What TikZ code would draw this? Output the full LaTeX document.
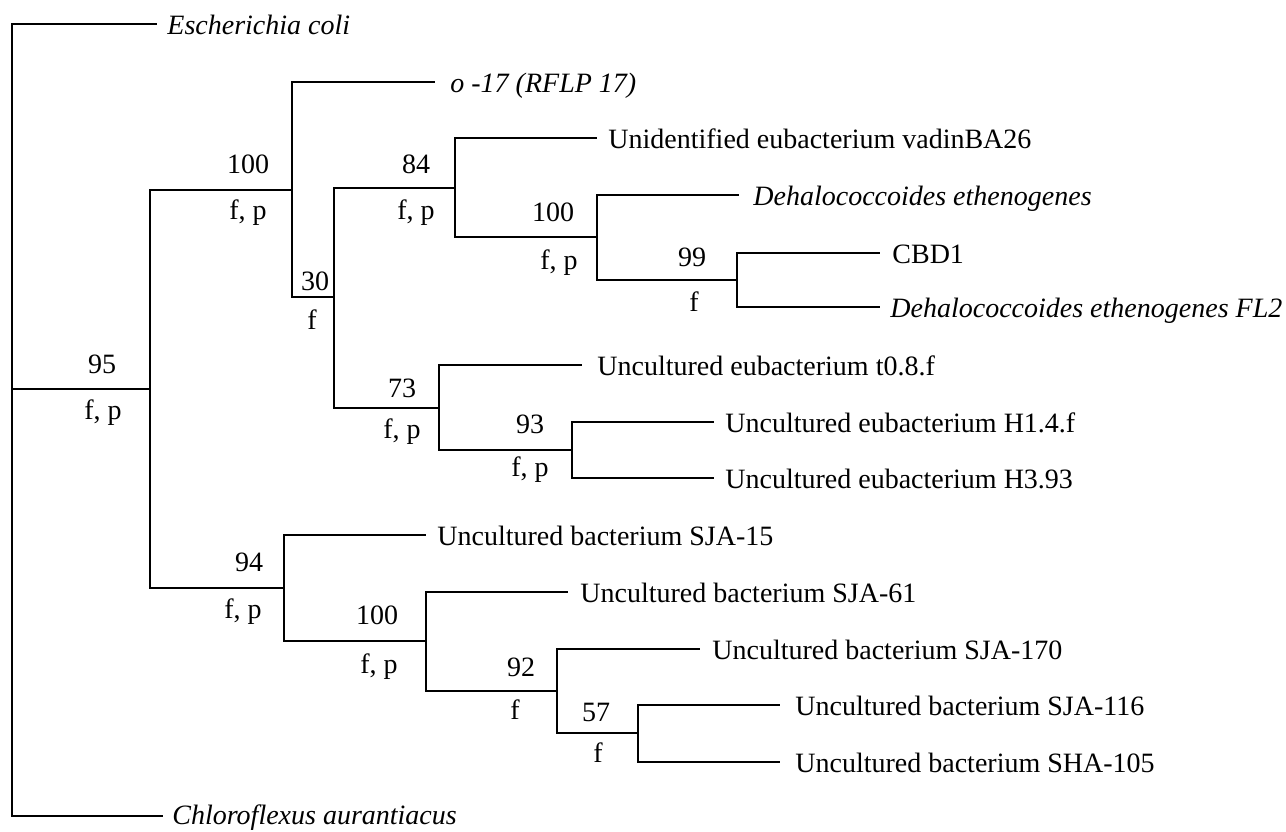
\documentclass[tikz,border=0pt]{standalone}
\usepackage{fontspec}
\setmainfont{Liberation Serif}
\begin{document}
\begin{tikzpicture}[x=0.5pt,y=-0.5pt,
  br/.style={line width=0.8pt},
  leaf/.style={anchor=base west,inner sep=0pt,font=\fontsize{14}{16}\selectfont},
  sp/.style={leaf,font=\fontsize{14}{16}\selectfont\itshape},
  bs/.style={inner sep=0pt,font=\fontsize{14}{16}\selectfont}]
\useasboundingbox (0,0) rectangle (1286,831);
% internal nodes
\coordinate (R) at (12,389);
\coordinate (A) at (150,389);
\coordinate (B) at (292,190);
\coordinate (C) at (334,297);
\coordinate (D) at (455,188);
\coordinate (E) at (597,237);
\coordinate (F) at (737,280);
\coordinate (G) at (439,408);
\coordinate (H) at (572,450);
\coordinate (I) at (284,588);
\coordinate (J) at (426,641);
\coordinate (K) at (557,691);
\coordinate (L) at (638,733);
% leaf ends
\coordinate (ecE) at (157,24);
\coordinate (o17E) at (435,82);
\coordinate (vaE) at (597,138);
\coordinate (deE) at (739,195);
\coordinate (cbE) at (880,253);
\coordinate (flE) at (880,307);
\coordinate (t08E) at (582,365);
\coordinate (h14E) at (714,422);
\coordinate (h393E) at (714,478);
\coordinate (s15E) at (426,535);
\coordinate (s61E) at (568,592);
\coordinate (s170E) at (700,649);
\coordinate (s116E) at (780,705);
\coordinate (s105E) at (780,762);
\coordinate (chE) at (163,816);
% leaf labels
\node[sp] (ec) at (167,34) {Escherichia coli};
\node[sp] (o17) at (450,92) {o -17 (RFLP 17)};
\node[leaf] (va) at (608,148) {Unidentified eubacterium vadinBA26};
\node[sp] (de) at (753,205) {Dehalococcoides ethenogenes};
\node[leaf] (cb) at (892,263) {CBD1};
\node[sp] (fl) at (890,317) {Dehalococcoides ethenogenes FL2};
\node[leaf] (t08) at (597,375) {Uncultured eubacterium t0.8.f};
\node[leaf] (h14) at (725,432) {Uncultured eubacterium H1.4.f};
\node[leaf] (h393) at (725,488) {Uncultured eubacterium H3.93};
\node[leaf] (s15) at (437,545) {Uncultured bacterium SJA-15};
\node[leaf] (s61) at (580,602) {Uncultured bacterium SJA-61};
\node[leaf] (s170) at (712,659) {Uncultured bacterium SJA-170};
\node[leaf] (s116) at (795,715) {Uncultured bacterium SJA-116};
\node[leaf] (s105) at (795,772) {Uncultured bacterium SHA-105};
\node[sp] (ch) at (172,824) {Chloroflexus aurantiacus};
% branches
\draw[br] (R) |- (ecE);
\draw[br] (R) |- (chE);
\draw[br] (R) |- (A);
\draw[br] (A) |- (B);
\draw[br] (A) |- (I);
\draw[br] (B) |- (o17E);
\draw[br] (B) |- (C);
\draw[br] (C) |- (D);
\draw[br] (C) |- (G);
\draw[br] (D) |- (vaE);
\draw[br] (D) |- (E);
\draw[br] (E) |- (deE);
\draw[br] (E) |- (F);
\draw[br] (F) |- (cbE);
\draw[br] (F) |- (flE);
\draw[br] (G) |- (t08E);
\draw[br] (G) |- (H);
\draw[br] (H) |- (h14E);
\draw[br] (H) |- (h393E);
\draw[br] (I) |- (s15E);
\draw[br] (I) |- (J);
\draw[br] (J) |- (s61E);
\draw[br] (J) |- (K);
\draw[br] (K) |- (s170E);
\draw[br] (K) |- (L);
\draw[br] (L) |- (s116E);
\draw[br] (L) |- (s105E);
% support labels
\node[bs] (nA) at (102,364) {95};
\node[bs] (fA) at (103,413) {f, p};
\node[bs] (nB) at (248,164) {100};
\node[bs] (fB) at (248,213) {f, p};
\node[bs] (nC) at (315,281) {30};
\node[bs] (fC) at (312,320) {f};
\node[bs] (nD) at (416,164) {84};
\node[bs] (fD) at (416,213) {f, p};
\node[bs] (nE) at (553,212) {100};
\node[bs] (fE) at (559,263) {f, p};
\node[bs] (nF) at (692,257) {99};
\node[bs] (fF) at (694,302) {f};
\node[bs] (nG) at (402,388) {73};
\node[bs] (fG) at (402,432) {f, p};
\node[bs] (nH) at (530,424) {93};
\node[bs] (fH) at (530,470) {f, p};
\node[bs] (nI) at (249,562) {94};
\node[bs] (fI) at (243,612) {f, p};
\node[bs] (nJ) at (377,615) {100};
\node[bs] (fJ) at (379,667) {f, p};
\node[bs] (nK) at (521,667) {92};
\node[bs] (fK) at (515,710) {f};
\node[bs] (nL) at (596,712) {57};
\node[bs] (fL) at (598,753) {f};
\end{tikzpicture}
\end{document}
